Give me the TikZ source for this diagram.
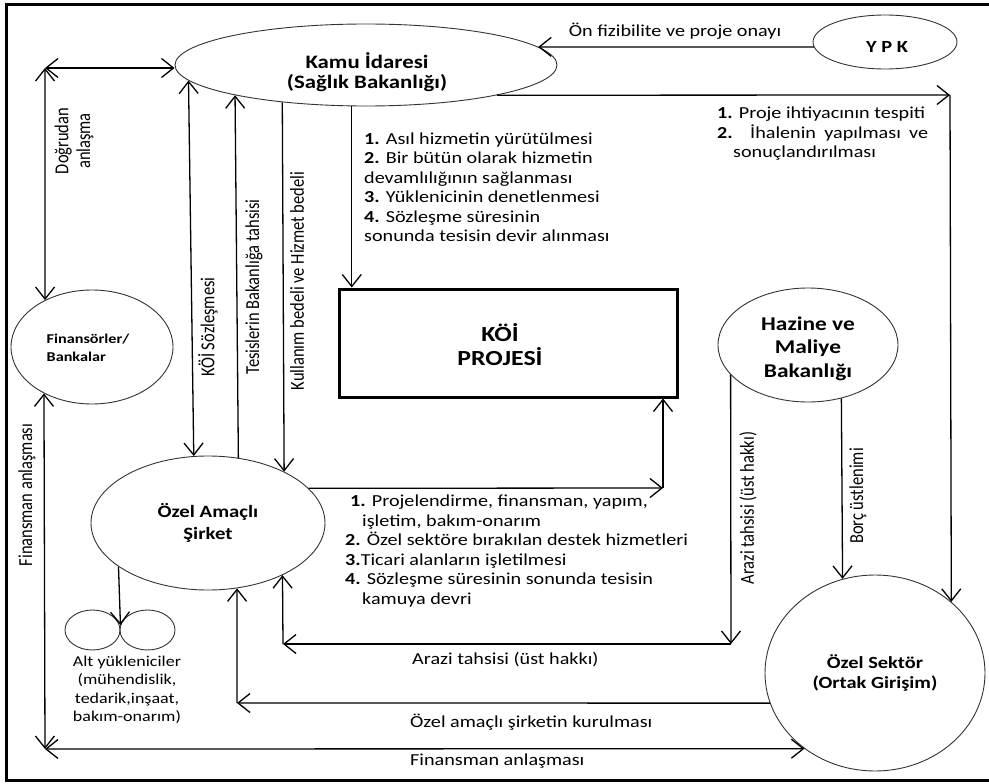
\documentclass[tikz,border=0pt]{standalone}
\usepackage{fontspec}
\setmainfont{Carlito}[FakeStretch=1.2]
\newfontfamily\rotf{Carlito}
\usetikzlibrary{arrows.meta,shapes.geometric}
\tikzset{
  >={Straight Barb[length=12pt,width=19pt]},
  ell/.style={draw=black!80, line width=0.9pt, ellipse, inner sep=0pt},
  con/.style={draw=black, line width=1.3pt},
  lbl/.style={font=\fontsize{16.8}{19.5}\selectfont, inner sep=0pt, align=left},
  rot/.style={font=\rotf\fontsize{16.5}{18}\selectfont, rotate=90, yscale=1.2, inner sep=0pt, align=center},
  btxt/.style={inner sep=0pt, align=center},
}
\begin{document}
\begin{tikzpicture}[x=1pt,y=-1pt]
\useasboundingbox (0,0) rectangle (989,784);
\fill[white] (0,0) rectangle (989,784);
\draw[line width=3pt] (6,5) rectangle (996,780);

% nodes
\node[ell, minimum width=382pt, minimum height=82pt] (kamu) at (366,65) {};
\node[btxt, font=\bfseries\fontsize{19}{20}\selectfont] (kamut) at (367,72.5) {Kamu İdaresi\\(Sağlık Bakanlığı)};
\node[ell, minimum width=144pt, minimum height=54pt] (ypk) at (885,42) {};
\node[btxt, font=\bfseries\fontsize{17}{20}\selectfont] (ypkt) at (887,47) {Y P K};
\node[ell, minimum width=162pt, minimum height=114pt] (fin) at (92,347) {};
\node[btxt, align=left, font=\bfseries\fontsize{13.5}{18}\selectfont] (fint) at (88,348) {Finansörler/\\Bankalar};
\node[ell, minimum width=234pt, minimum height=134pt, align=center, font=\bfseries\fontsize{17.3}{22}\selectfont] (oas) at (208,523) {Özel Amaçlı\\Şirket};
\node[ell, minimum width=180pt, minimum height=114pt] (hz) at (808,345) {};
\node[btxt, font=\bfseries\fontsize{19.5}{23.5}\selectfont] (hzt) at (808,348.5) {Hazine ve\\Maliye\\Bakanlığı};
\node[ell, minimum width=220pt, minimum height=196pt, align=center, font=\bfseries\fontsize{17}{20}\selectfont] (ozs) at (875,673) {Özel Sektör\\(Ortak Girişim)};
\node[draw, line width=3pt, minimum width=338pt, minimum height=108pt, inner sep=0pt] (koi) at (508,343) {};
\node[btxt, font=\bfseries\fontsize{21.5}{24}\selectfont] (koit) at (500,345) {KÖİ\\PROJESİ};
\node[ell, minimum width=55pt, minimum height=40pt] (alt1) at (92.5,630) {};
\node[ell, minimum width=55pt, minimum height=40pt] (alt2) at (147.5,630) {};
\node[btxt, font=\fontsize{15}{18.5}\selectfont] (altt) at (127,690) {Alt yükleniciler\\(mühendislik,\\tedarik,inşaat,\\bakım-onarım)};

% corner coordinates
\coordinate (cTL) at (45,68);
\coordinate (cBL) at (45,749);
\coordinate (cTR) at (950,95);
\coordinate (cK) at (663,488);
\coordinate (cA1) at (731,644);
\coordinate (cA2) at (283,644);
\coordinate (cO) at (237,703);

% connectors
\draw[con,<->] (cTL) -- (cTL -| kamu.west);
\draw[con,<->] (cTL) -- (fin.135.4);
\draw[con,<->] (fin.224.6) -- (cBL);
\draw[con,<->] (cBL) -- (ozs.227.6);
\draw[con,<->] (kamu.185.7) -- (oas.102.7);
\draw[con,->] (oas.65.9) -- (kamu.193.2);
\draw[con,->] (kamu.204) -- (oas.34.4);
\draw[con,->] (kamu.251.1) -- (kamu.251.1 |- koi.north);
\draw[con,->] (ypk.184) -- (kamu.6);
\draw[con,->] (kamu.347) -- (cTR);
\draw[con,->] (cTR) -- (ozs.43.7);
\draw[con,->] (oas.19.3) -- (cK);
\draw[con,->] (cK) -- (cK |- koi.south);
\draw[con,->] (hz.201) -- (cA1);
\draw[con,->] (cA1) -- (cA2);
\draw[con,->] (cA2) -- (oas.325.6);
\draw[con,->] (ozs.196) -- (cO);
\draw[con,->] (cO) -- (oas.294.1);
\draw[con,->] (hz.302.8) -- (ozs.109.4);
\draw[con,->] (oas.206.6) -- ([yshift=5pt]alt1.east);

% labels
\node[lbl] (tonfiz) at (675,31) {Ön fizibilite ve proje onayı};
\node[rot] (tdogr) at (74,141) {Doğrudan\\anlaşma};
\node[rot] (tkoi) at (208,327) {KÖİ Sözleşmesi};
\node[rot] (ttes) at (254,287) {Tesislerin Bakanlığa tahsisi};
\node[rot] (tkul) at (297,281) {Kullanım bedeli ve Hizmet bedeli};
\node[rot] (tfin) at (27,495) {Finansman anlaşması};
\node[rot] (taraz) at (748,508) {Arazi tahsisi (üst hakkı)};
\node[rot] (tborc) at (858,496) {Borç üstlenimi};

\node[lbl, anchor=west] (tmid) at (364,187) {\textbf{1.} Asıl hizmetin yürütülmesi\\\textbf{2.} Bir bütün olarak hizmetin\\devamlılığının sağlanması\\\textbf{3.} Yüklenicinin denetlenmesi\\\textbf{4.} Sözleşme süresinin\\sonunda tesisin devir alınması};
\node[lbl, anchor=west] (tright) at (717,134) {\textbf{1.} Proje ihtiyacının tespiti\\\makebox[211pt][s]{\textbf{2.} İhalenin yapılması ve}\\\hspace*{16pt}sonuçlandırılması};
\node[lbl, anchor=west] (tbot) at (345,551) {\hspace*{5pt}\textbf{1.} Projelendirme, finansman, yapım,\\\hspace*{17pt}işletim, bakım-onarım\\\textbf{2.} Özel sektöre bırakılan destek hizmetleri\\\textbf{3.}Ticari alanların işletilmesi\\\textbf{4.} Sözleşme süresinin sonunda tesisin\\\hspace*{17pt}kamuya devri};
\node[lbl, anchor=west] (tarazh) at (412,660) {Arazi tahsisi (üst hakkı)};
\node[lbl, anchor=west] (tkur) at (410,722) {Özel amaçlı şirketin kurulması};
\node[lbl, anchor=west] (tfinh) at (410,761) {Finansman anlaşması};
\end{tikzpicture}
\end{document}
